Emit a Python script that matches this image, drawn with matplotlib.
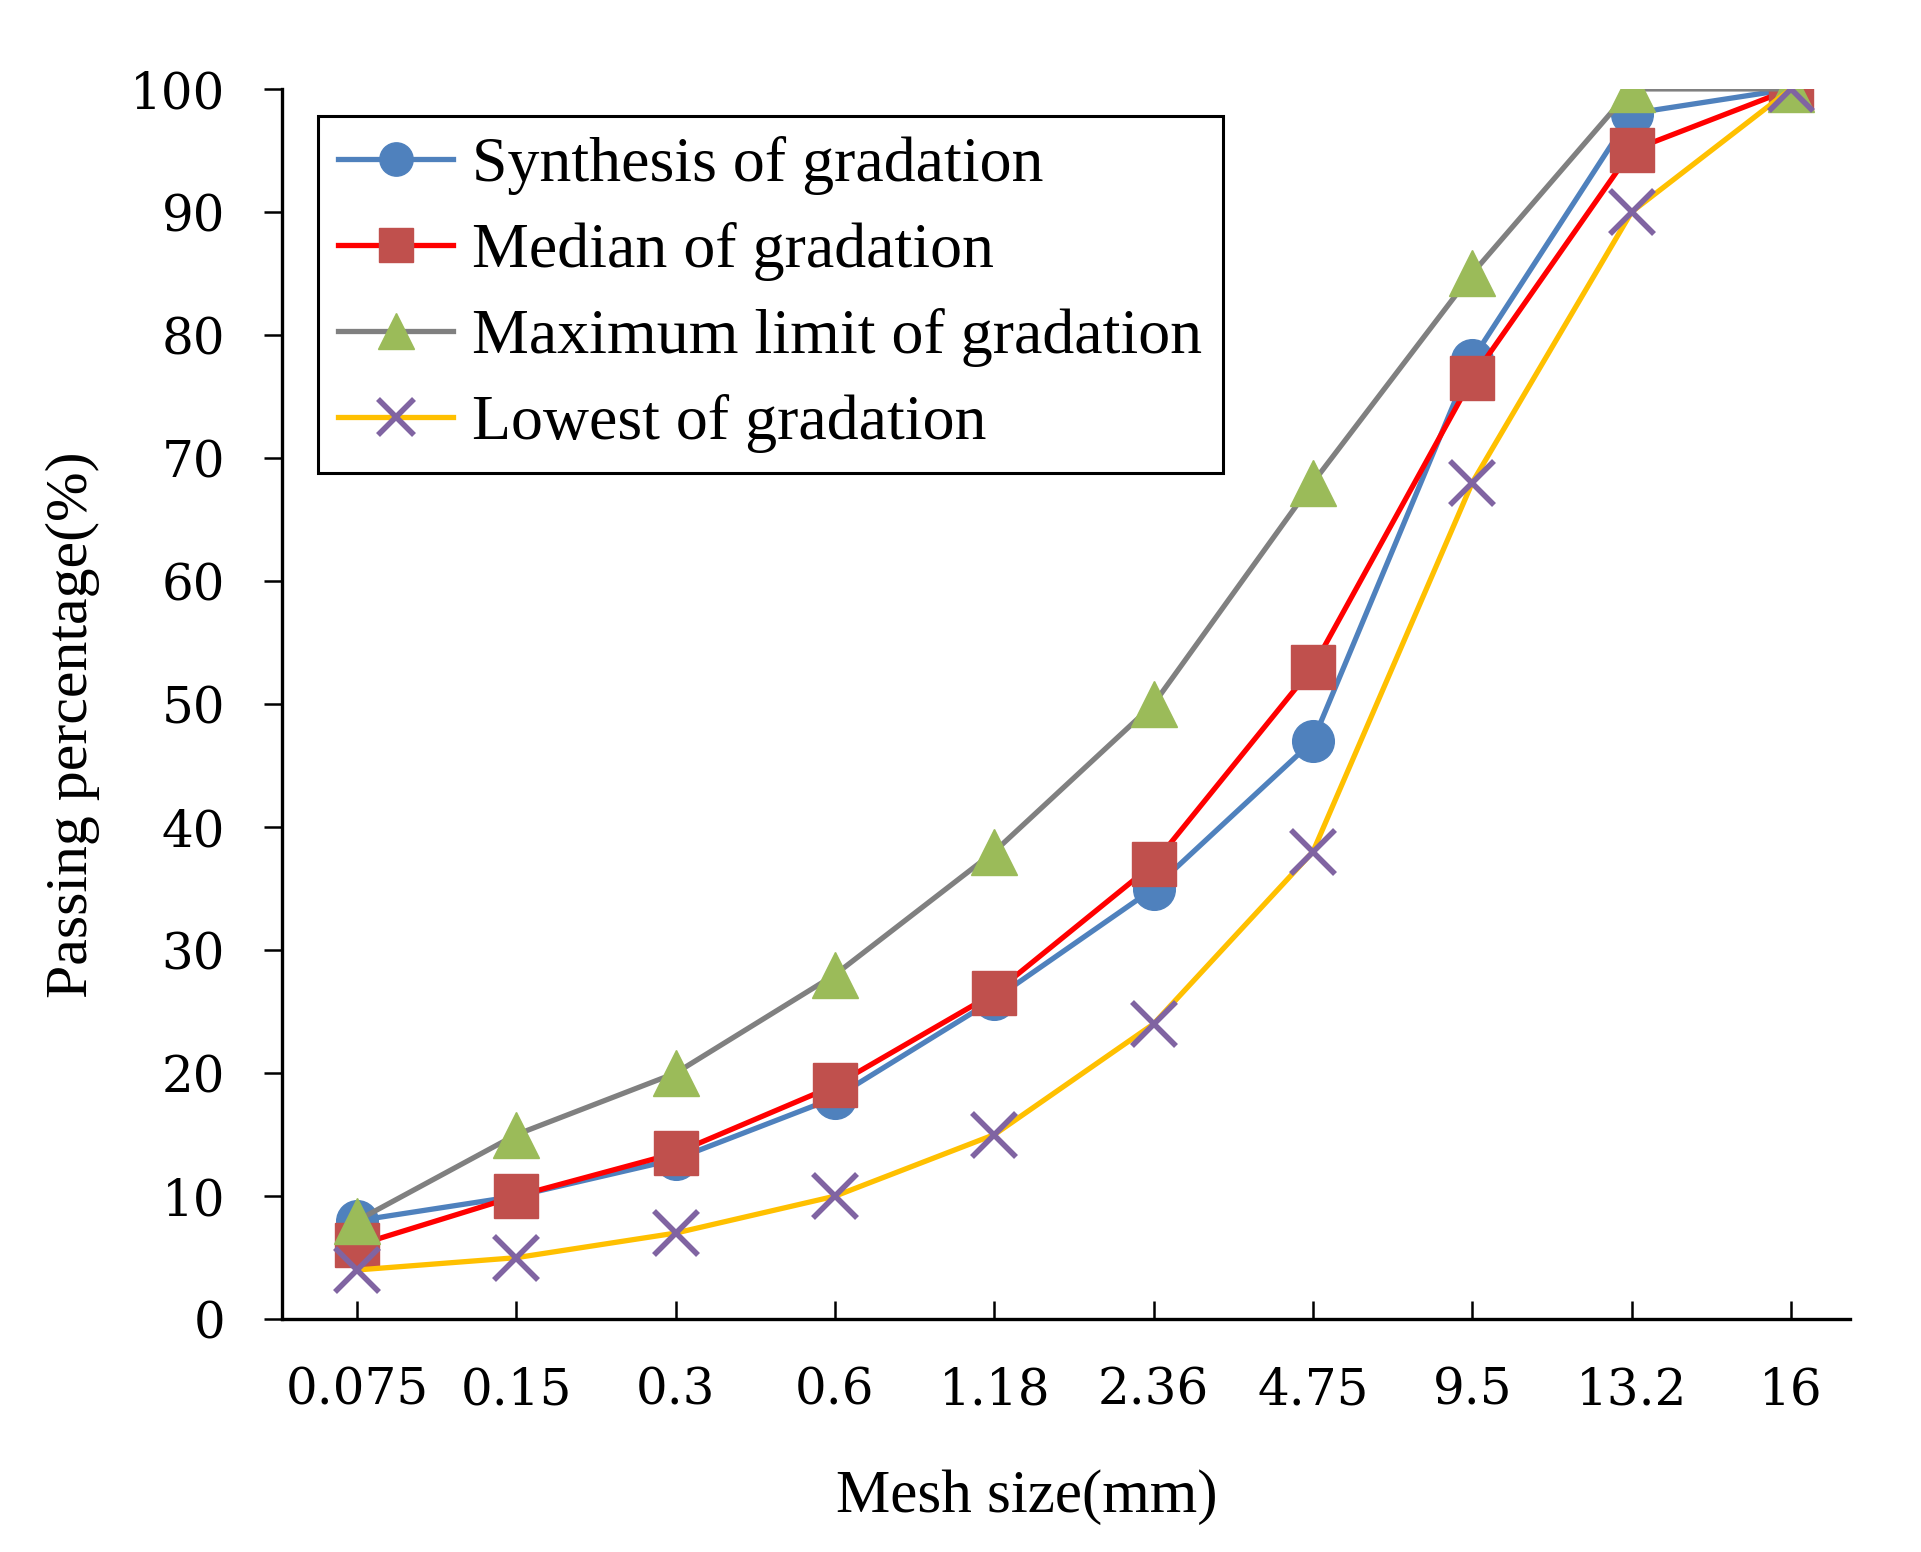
import matplotlib
matplotlib.use('Agg')
import matplotlib.pyplot as plt

# Sieve sizes and gradation curves (passing %)
mesh_sizes = ['0.075', '0.15', '0.3', '0.6', '1.18', '2.36', '4.75', '9.5', '13.2', '16']
synthesis = [8, 10, 13, 18, 26, 35, 47, 78, 98, 100]
median = [6, 10, 13.5, 19, 26.5, 37, 53, 76.5, 95, 100]
maximum = [8, 15, 20, 28, 38, 50, 68, 85, 100, 100]
lowest = [4, 5, 7, 10, 15, 24, 38, 68, 90, 100]

fig = plt.figure(figsize=(19.21, 15.52), dpi=100)
ax = fig.add_axes([0.1468, 0.150, 0.963 - 0.1468, 0.9427 - 0.150])

x = range(len(mesh_sizes))
ax.plot(x, synthesis, color='#4F81BD', lw=3.8, marker='o', ms=30,
        mfc='#4F81BD', mec='#4F81BD', label='Synthesis of gradation')
ax.plot(x, median, color='#FF0000', lw=3.8, marker='s', ms=31,
        mfc='#C0504D', mec='#C0504D', label='Median of gradation')
ax.plot(x, maximum, color='#808080', lw=3.8, marker='^', ms=33,
        mfc='#9BBB59', mec='#9BBB59', label='Maximum limit of gradation')
ax.plot(x, lowest, color='#FFC000', lw=3.8, marker='x', ms=32, mew=4,
        mec='#8064A2', label='Lowest of gradation')

ax.set_xlim(-0.47, 9.37)
ax.set_ylim(0, 100)
ax.set_xticks(list(x))
ax.set_xticklabels(mesh_sizes)
ax.set_yticks(range(0, 101, 10))

for s in ['top', 'right']:
    ax.spines[s].set_visible(False)
for s in ['left', 'bottom']:
    ax.spines[s].set_linewidth(2.4)

ax.tick_params(axis='y', direction='out', length=13, width=1.8, pad=28)
ax.tick_params(axis='x', direction='in', length=13, width=1.8, pad=34)
for lab in ax.get_xticklabels() + ax.get_yticklabels():
    lab.set_fontfamily('DejaVu Serif')
    lab.set_fontsize(36)

ax.set_xlabel('Mesh size(mm)', fontfamily='Liberation Serif', fontsize=44)
ax.set_ylabel('Passing percentage(%)', fontfamily='Liberation Serif', fontsize=43)
ax.xaxis.set_label_coords(0.475, -0.122)
ax.yaxis.set_label_coords(-0.116, 0.483)

leg = ax.legend(loc='upper left', bbox_to_anchor=(0.0227, 0.978),
                prop={'family': 'Liberation Serif', 'size': 46},
                frameon=True, fancybox=False, edgecolor='black',
                handlelength=1.8, handletextpad=0.3, labelspacing=0.42,
                borderpad=0.32, borderaxespad=0, markerscale=0.8, framealpha=1)
leg.get_frame().set_linewidth(2.2)

fig.savefig('out.png', dpi=100)
